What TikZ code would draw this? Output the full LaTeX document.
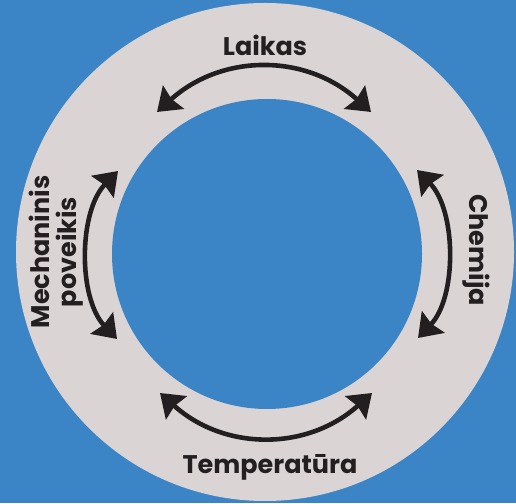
\documentclass[tikz,border=0pt]{standalone}
\usepackage{fontspec}
\setmainfont{Poppins}
\usetikzlibrary{arrows.meta}
\definecolor{bgblue}{HTML}{3B85C6}
\definecolor{ringgray}{HTML}{DBD4D5}
\definecolor{ink}{HTML}{231F20}
\begin{document}
\begin{tikzpicture}[x=1pt,y=1pt,
  arr/.style={draw=ink, line width=4.6pt, {Stealth[length=22pt,width=31pt,inset=2.5pt]}-{Stealth[length=22pt,width=31pt,inset=2.5pt]}},
  lbl/.style={text=ink, font=\fontsize{25.5}{27.5}\selectfont\bfseries, inner sep=0pt, align=center}]
\fill[bgblue] (0,0) rectangle (516,503);
\useasboundingbox (0,0) rectangle (516,503);
\fill[ringgray] (265,251) circle (249);
\fill[bgblue] (267,249) circle (155);
% arrow end points
\coordinate (t1) at (157,391);
\coordinate (t2) at (371,391);
\coordinate (b1) at (160,110);
\coordinate (b2) at (372,110);
\coordinate (l1) at (117,164);
\coordinate (l2) at (118,332);
\coordinate (r1) at (417,333);
\coordinate (r2) at (418,165);
\draw[arr] (t1) to[bend left=42, looseness=1.05] (t2);
\draw[arr] (b1) to[bend right=42, looseness=1.05] (b2);
\draw[arr] (l1) to[bend left=44, looseness=0.86] (l2);
\draw[arr] (r1) to[bend left=44, looseness=0.86] (r2);
% labels
\node[lbl] (laikas) at (265,458) {Laikas};
\node[lbl] (temp) at (270,36) {Temperatūra};
\node[lbl, rotate=90] (mech) at (56,251) {Mechaninis\\poveikis};
\node[lbl, rotate=-90] (chem) at (476,253) {Chemija};
\end{tikzpicture}
\end{document}
